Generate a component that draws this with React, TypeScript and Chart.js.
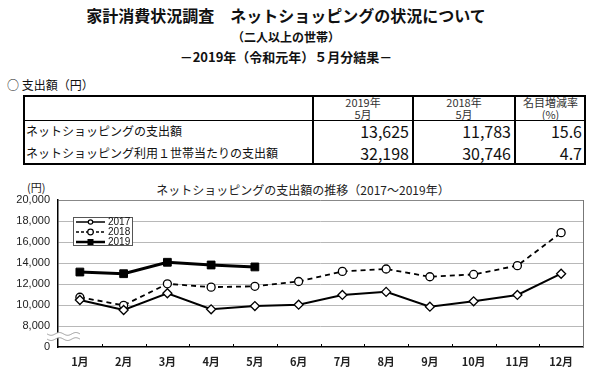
import React, { useEffect, useRef } from 'react';
import { Chart, registerables } from 'chart.js';

Chart.register(...registerables);

const months = ['1月', '2月', '3月', '4月', '5月', '6月', '7月', '8月', '9月', '10月', '11月', '12月'];
const series2017 = [10480, 9520, 11120, 9590, 9900, 10030, 10960, 11250, 9840, 10350, 10960, 12980];
const series2018 = [10740, 9970, 12020, 11700, 11783, 12240, 13200, 13430, 12690, 12910, 13750, 16890];
const series2019 = [13140, 12980, 14070, 13810, 13625];
const legendLabels = ['2017', '2018', '2019'];
const yMin = 6000; // shown as "0" (broken axis)
const yMax = 20000;
const yStep = 2000;
const yBreakValue = 7000;

const tableHeaders = [
  ['2019年', '5月'],
  ['2018年', '5月'],
  ['名目増減率', '(%)'],
];
const tableLabels = ['ネットショッピングの支出額', 'ネットショッピング利用１世帯当たりの支出額'];
const tableValues2019 = ['13,625', '32,198'];
const tableValues2018 = ['11,783', '30,746'];
const tableRates = ['15.6', '4.7'];

const JP = '"Noto Sans CJK JP", "Noto Sans", sans-serif';

const decorPlugin = {
  id: 'decor',
  afterDraw(chart: any) {
    const { ctx, chartArea: ca, scales } = chart;
    const xs = scales.x;
    const ys = scales.y;
    ctx.save();
    // right border
    ctx.strokeStyle = '#777';
    ctx.lineWidth = 1;
    ctx.beginPath();
    ctx.moveTo(ca.right + 0.5, ca.top);
    ctx.lineTo(ca.right + 0.5, ca.bottom);
    ctx.stroke();
    // category boundary ticks on x axis
    ctx.strokeStyle = '#000';
    ctx.lineWidth = 1;
    for (let i = 1; i < months.length; i++) {
      const px = Math.round((xs.getPixelForValue(i - 1) + xs.getPixelForValue(i)) / 2) + 0.5;
      ctx.beginPath();
      ctx.moveTo(px, ca.bottom);
      ctx.lineTo(px, ca.bottom - 3);
      ctx.stroke();
    }
    // axis break
    const yb = ys.getPixelForValue(yBreakValue);
    const x0 = ca.left - 11;
    const x1 = ca.left + 22;
    const wave = (y0: number) => {
      const pts: [number, number][] = [];
      for (let px = x0; px <= x1; px += 0.5) {
        pts.push([px, y0 + 1.4 * Math.sin(((px - x0) / (x1 - x0)) * Math.PI * 4)]);
      }
      return pts;
    };
    const top = wave(yb - 2.6);
    const bot = wave(yb + 2.6);
    ctx.fillStyle = '#fff';
    ctx.beginPath();
    top.forEach(([a, b], i) => (i ? ctx.lineTo(a, b) : ctx.moveTo(a, b)));
    for (let i = bot.length - 1; i >= 0; i--) ctx.lineTo(bot[i][0], bot[i][1]);
    ctx.closePath();
    ctx.fill();
    ctx.strokeStyle = '#999';
    ctx.lineWidth = 1;
    [top, bot].forEach((pts) => {
      ctx.beginPath();
      pts.forEach(([a, b], i) => (i ? ctx.lineTo(a, b) : ctx.moveTo(a, b)));
      ctx.stroke();
    });
    // legend box
    const lx = ca.left + 15;
    const ly = ca.top + 17;
    ctx.fillStyle = '#fff';
    ctx.fillRect(lx, ly, 59, 28);
    ctx.strokeStyle = '#555';
    ctx.lineWidth = 1;
    ctx.strokeRect(lx + 0.5, ly + 0.5, 59, 28);
    ctx.font = '10px "Liberation Sans Narrow", "Liberation Sans", sans-serif';
    ctx.textBaseline = 'middle';
    ctx.textAlign = 'left';
    legendLabels.forEach((lab, i) => {
      const yy = ly + 5 + i * 10;
      ctx.strokeStyle = '#000';
      ctx.setLineDash(i === 1 ? [3, 2] : []);
      ctx.lineWidth = i === 2 ? 2.5 : 1.5;
      ctx.beginPath();
      ctx.moveTo(lx + 3, yy);
      ctx.lineTo(lx + 32, yy);
      ctx.stroke();
      ctx.setLineDash([]);
      const mx = lx + 17.5;
      if (i === 2) {
        ctx.fillStyle = '#000';
        ctx.fillRect(mx - 3, yy - 3, 6, 6);
      } else {
        ctx.fillStyle = '#fff';
        ctx.lineWidth = 1.2;
        ctx.beginPath();
        ctx.arc(mx, yy, i === 0 ? 2.2 : 2.8, 0, Math.PI * 2);
        ctx.fill();
        ctx.stroke();
      }
      ctx.fillStyle = '#111';
      ctx.fillText(lab, lx + 35, yy + 0.5);
    });
    ctx.restore();
  },
};

function LineChart() {
  const ref = useRef<HTMLCanvasElement | null>(null);
  useEffect(() => {
    if (!ref.current) return;
    const chart = new Chart(ref.current, {
      type: 'line',
      data: {
        labels: months,
        datasets: [
          {
            label: legendLabels[0],
            data: series2017,
            borderColor: '#000',
            borderWidth: 2,
            pointStyle: 'rectRot',
            pointRadius: 4.5,
            pointBackgroundColor: '#fff',
            pointBorderColor: '#000',
            pointBorderWidth: 1.3,
            tension: 0,
          },
          {
            label: legendLabels[1],
            data: series2018,
            borderColor: '#000',
            borderWidth: 1.8,
            borderDash: [5, 4],
            pointStyle: 'circle',
            pointRadius: 4,
            pointBackgroundColor: '#fff',
            pointBorderColor: '#000',
            pointBorderWidth: 1.3,
            tension: 0,
          },
          {
            label: legendLabels[2],
            data: series2019,
            borderColor: '#000',
            borderWidth: 3,
            pointStyle: 'rect',
            pointRadius: 5.5,
            pointBackgroundColor: '#000',
            pointBorderColor: '#000',
            pointBorderWidth: 1,
            tension: 0,
          },
        ],
      },
      options: {
        responsive: false,
        animation: false,
        layout: { padding: { top: 20, right: 17, left: 0, bottom: 0 } },
        plugins: { legend: { display: false }, tooltip: { enabled: false }, title: { display: false } },
        scales: {
          x: {
            offset: true,
            grid: { display: false, drawTicks: false },
            border: { color: '#000', width: 1.5 },
            ticks: {
              padding: 8,
              color: '#222',
              font: { family: JP, size: 11, weight: 'bold' },
              maxRotation: 0,
              autoSkip: false,
            },
            afterFit: (s: any) => {
              s.height = 25;
            },
          },
          y: {
            min: yMin,
            max: yMax,
            ticks: {
              stepSize: yStep,
              padding: 8,
              color: '#222',
              font: { family: '"Liberation Sans", Arial, sans-serif', size: 11 },
              callback: (v: any) => (Number(v) === yMin ? '0' : Number(v).toLocaleString('en-US')),
            },
            grid: {
              drawTicks: false,
              lineWidth: 1,
              color: (c: any) =>
                c.tick && c.tick.value === yMin ? 'rgba(0,0,0,0)' : c.tick && c.tick.value === yMax ? '#888' : '#b8b8b8',
            },
            border: { color: '#000', width: 1.5 },
            afterFit: (s: any) => {
              s.width = 58;
            },
          },
        },
      },
      plugins: [decorPlugin],
    } as any);
    return () => chart.destroy();
  }, []);
  return <canvas ref={ref} width={600} height={192} style={{ width: 600, height: 192, display: 'block' }} />;
}

export default function App() {
  const colX = [23, 313, 413, 515, 586];
  const tTop = 95;
  const tBottom = 165;
  const headBottom = 120;
  const rowCenters = [131, 153];
  return (
    <div
      style={{
        position: 'absolute',
        left: 0,
        top: 0,
        width: 600,
        height: 372,
        background: '#fff',
        fontFamily: JP,
        color: '#111',
        overflow: 'hidden',
      }}
    >
      <div style={{ position: 'absolute', left: 0, top: 5, width: 572, textAlign: 'center', fontSize: 16, fontWeight: 'bold', lineHeight: '20px' }}>
        家計消費状況調査　ネットショッピングの状況について
      </div>
      <div style={{ position: 'absolute', left: 0, top: 28, width: 572, textAlign: 'center', fontSize: 12, fontWeight: 'bold', lineHeight: '18px' }}>
        （二人以上の世帯）
      </div>
      <div style={{ position: 'absolute', left: 0, top: 48, width: 572, textAlign: 'center', fontSize: 13, fontWeight: 'bold', lineHeight: '18px' }}>
        －2019年（令和元年）５月分結果－
      </div>
      <div style={{ position: 'absolute', left: 7, top: 77, fontSize: 12, lineHeight: '16px' }}>○&nbsp;支出額（円）</div>

      {/* table */}
      <div
        style={{
          position: 'absolute',
          left: colX[0],
          top: tTop,
          width: colX[4] - colX[0],
          height: tBottom - tTop,
          border: '2px solid #000',
          boxSizing: 'border-box',
        }}
      />
      {colX.slice(1, 4).map((x, i) => (
        <div key={'c' + i} style={{ position: 'absolute', left: x - 1, top: tTop, width: 1.5, height: tBottom - tTop, background: '#000' }} />
      ))}
      <div style={{ position: 'absolute', left: colX[0], top: headBottom, width: colX[4] - colX[0], height: 1, background: '#000' }} />
      {tableHeaders.map((h, i) => (
        <div
          key={'h' + i}
          style={{
            position: 'absolute',
            left: colX[i + 1],
            top: tTop + 1,
            width: colX[i + 2] - colX[i + 1],
            textAlign: 'center',
            fontSize: 11,
            lineHeight: '12px',
            color: '#333',
          }}
        >
          {h[0]}
          <br />
          {h[1]}
        </div>
      ))}
      {tableLabels.map((l, r) => (
        <div key={'l' + r} style={{ position: 'absolute', left: colX[0] + 3, top: rowCenters[r] - 9, fontSize: 12, lineHeight: '18px' }}>
          {l}
        </div>
      ))}
      {[tableValues2019, tableValues2018, tableRates].map((vals, c) =>
        vals.map((v, r) => (
          <div
            key={'v' + c + r}
            style={{
              position: 'absolute',
              left: colX[c + 1],
              top: rowCenters[r] - 11,
              width: colX[c + 2] - colX[c + 1] - 4,
              textAlign: 'right',
              fontSize: 16,
              lineHeight: '22px',
            }}
          >
            {v}
          </div>
        ))
      )}

      {/* chart headings */}
      <div style={{ position: 'absolute', left: 27, top: 180, fontSize: 11, lineHeight: '14px', color: '#222' }}>(円)</div>
      <div style={{ position: 'absolute', left: 0, top: 182, width: 606, textAlign: 'center', fontSize: 12, lineHeight: '16px', color: '#222' }}>
        ネットショッピングの支出額の推移（2017～2019年）
      </div>

      <div style={{ position: 'absolute', left: 0, top: 180, width: 600, height: 192 }}>
        <LineChart />
      </div>
    </div>
  );
}
